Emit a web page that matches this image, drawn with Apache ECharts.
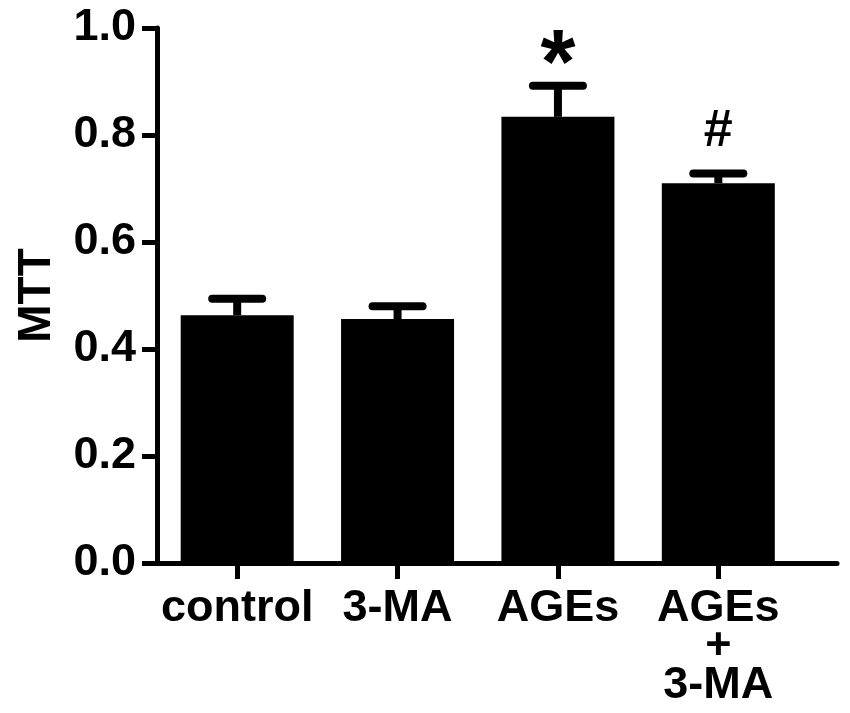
<!DOCTYPE html>
<html>
<head>
<meta charset="utf-8">
<script src="https://cdn.jsdelivr.net/npm/echarts@6/dist/echarts.min.js"></script>
<style>
html,body{margin:0;padding:0;background:#fff;}
#chart{width:850px;height:713px;}
</style>
</head>
<body>
<div id="chart"></div>
<script>
const categories = ['control', '3-MA', 'AGEs', 'AGEs\n+\n3-MA'];
const means = [0.463, 0.456, 0.834, 0.710];
const upperErr = [0.494, 0.480, 0.892, 0.728];
const annotations = ['', '', '*', '#'];
const yTicks = [0, 0.2, 0.4, 0.6, 0.8, 1.0];

const FONT = '"Liberation Sans", Arial, Helvetica, sans-serif';
const annStyle = {
  '*': { size: 90, dy: -18 },
  '#': { size: 52, dy: -42 }
};

const errData = categories.map((c, i) => [i, means[i], upperErr[i], annotations[i]]);

const chart = echarts.init(document.getElementById('chart'), null, { renderer: 'canvas' });

chart.setOption({
  animation: false,
  backgroundColor: '#fff',
  grid: [
    { left: 157, right: 51.5, top: 28, bottom: 150 },
    { left: 157, right: 13, top: 28, bottom: 150 }
  ],
  xAxis: [
    {
      type: 'category',
      gridIndex: 0,
      data: categories,
      boundaryGap: true,
      axisLine: { show: true, lineStyle: { color: '#000', width: 5 } },
      axisTick: { show: true, alignWithLabel: true, length: 16, lineStyle: { color: '#000', width: 5 } },
      axisLabel: {
        color: '#000', fontFamily: FONT, fontWeight: 'bold', fontSize: 45,
        lineHeight: 38.5, margin: 26, interval: 0
      },
      splitLine: { show: false }
    },
    {
      type: 'value',
      gridIndex: 1,
      min: 0, max: 1,
      axisLine: { show: true, lineStyle: { color: '#000', width: 5 } },
      axisTick: { show: false },
      axisLabel: { show: false },
      splitLine: { show: false }
    }
  ],
  yAxis: [
    {
      type: 'value',
      gridIndex: 0,
      min: yTicks[0],
      max: yTicks[yTicks.length - 1],
      interval: 0.2,
      name: 'MTT',
      nameLocation: 'middle',
      nameRotate: 90,
      nameGap: 97,
      nameTextStyle: { color: '#000', fontFamily: FONT, fontWeight: 'bold', fontSize: 46 },
      axisLine: { show: true, lineStyle: { color: '#000', width: 5 } },
      axisTick: { show: true, length: 15, lineStyle: { color: '#000', width: 5 } },
      axisLabel: {
        color: '#000', fontFamily: FONT, fontWeight: 'bold', fontSize: 45, margin: 21,
        formatter: v => v.toFixed(1)
      },
      splitLine: { show: false }
    },
    {
      type: 'value',
      gridIndex: 1,
      min: 0, max: 1,
      show: false
    }
  ],
  series: [
    {
      type: 'bar',
      xAxisIndex: 0,
      yAxisIndex: 0,
      data: means,
      barWidth: 113,
      itemStyle: { color: '#000' },
      z: 2
    },
    {
      type: 'custom',
      xAxisIndex: 0,
      yAxisIndex: 0,
      data: errData,
      z: 3,
      renderItem: function (params, api) {
        const idx = api.value(0);
        const top = api.coord([idx, api.value(2)]);
        const base = api.coord([idx, api.value(1)]);
        const capHalf = 25;
        const children = [
          { type: 'line', shape: { x1: top[0], y1: base[1], x2: top[0], y2: top[1] },
            style: { stroke: '#000', lineWidth: 8 } },
          { type: 'line', shape: { x1: top[0] - capHalf, y1: top[1], x2: top[0] + capHalf, y2: top[1] },
            style: { stroke: '#000', lineWidth: 8, lineCap: 'round' } }
        ];
        const ann = annotations[idx];
        if (ann) {
          const st = annStyle[ann];
          children.push({
            type: 'text',
            style: {
              text: ann, x: top[0], y: top[1] + st.dy,
              align: 'center', verticalAlign: 'middle',
              fontFamily: FONT, fontWeight: 'bold', fontSize: st.size, fill: '#000'
            }
          });
        }
        return { type: 'group', children: children };
      }
    }
  ]
});
</script>
</body>
</html>
